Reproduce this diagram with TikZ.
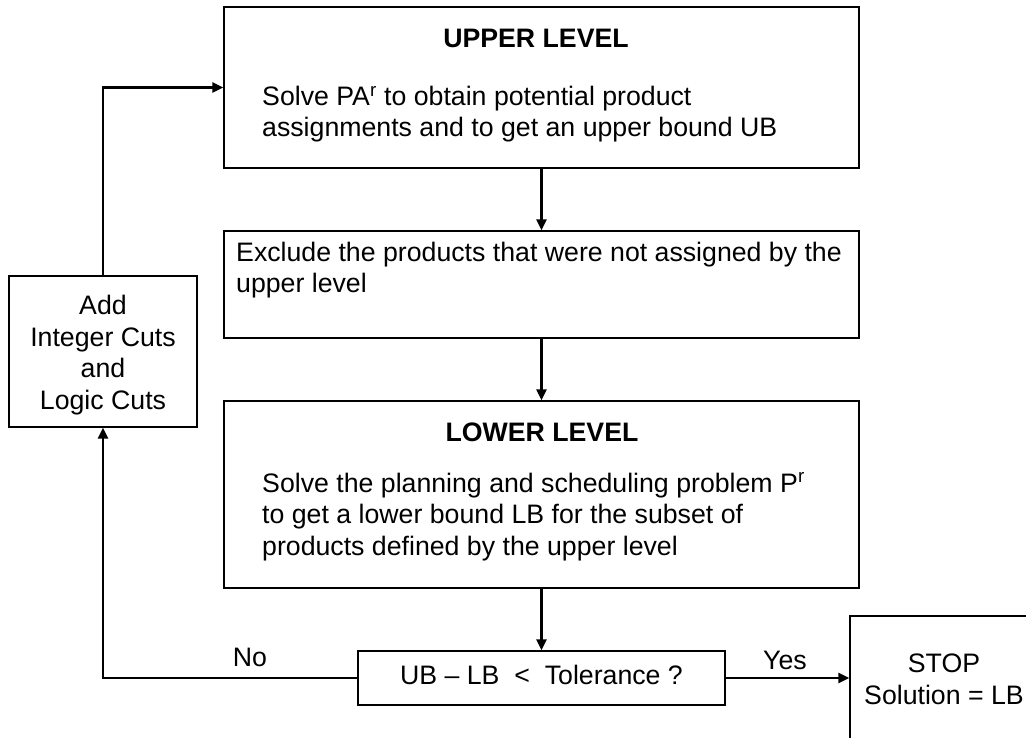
\documentclass[tikz,border=0pt]{standalone}
\usepackage{fontspec}
\setmainfont{Liberation Sans}
\usetikzlibrary{arrows.meta}
\begin{document}
\begin{tikzpicture}[x=1pt,y=-1pt,
  box/.style={draw, line width=1.4pt, rectangle, inner sep=0pt},
  conn/.style={line width=2.8pt, -{Triangle[length=11pt,width=10pt]}},
  txt/.style={inner sep=0pt, font=\fontsize{26.7pt}{31.5pt}\selectfont},
  ttl/.style={txt, font=\fontsize{26.7pt}{31.5pt}\selectfont\bfseries}]
\useasboundingbox (0,0) rectangle (1026,738);
\clip (0,0) rectangle (1026,738);
% boxes
\node[box, minimum width=635pt, minimum height=161pt] (upper) at (541.5,87.5) {};
\node[box, minimum width=635pt, minimum height=107pt] (middle) at (541.5,284.5) {};
\node[box, minimum width=635pt, minimum height=187pt] (lower) at (541.5,494.5) {};
\node[box, minimum width=367pt, minimum height=54pt] (dec) at (541.5,678) {};
\node[box, minimum width=188pt, minimum height=151pt] (cuts) at (103,351.5) {};
\node[box, minimum width=186pt, minimum height=124pt] (stop) at (943,678) {};
% texts (multi-line nodes: base anchor = last line)
\node[ttl, anchor=base] (uptitle) at (536,48) {UPPER LEVEL};
\node[txt, anchor=base west, align=left] (uptext) at (262,137)
  {Solve PA\textsuperscript{r} to obtain potential product\\assignments and to get an upper bound UB};
\node[txt, anchor=base west, align=left] (midtext) at (236,293)
  {Exclude the products that were not assigned by the\\upper level};
\node[ttl, anchor=base] (lowtitle) at (542,441) {LOWER LEVEL};
\node[txt, anchor=base west, align=left] (lowtext) at (262,555)
  {Solve the planning and scheduling problem P\textsuperscript{r}\\to get a lower bound LB for the subset of\\products defined by the upper level};
\node[txt, anchor=base, align=center] (cutstext) at (103,409)
  {Add\\Integer Cuts\\and\\Logic Cuts};
\node[txt, anchor=base] (dectext) at (541.5,684) {UB \textendash\ LB\ \ <\ \ Tolerance ?};
\node[txt, anchor=base, align=center] (stoptext) at (944,704) {STOP\\Solution = LB};
\node[txt, anchor=base] (yes) at (785,669) {Yes};
\node[txt, anchor=base] (no) at (250,666) {No};
% connectors
\draw[conn] (upper.south) -- (middle.north);
\draw[conn] (middle.south) -- (lower.north);
\draw[conn] (lower.south) -- (dec.north);
\draw[conn] (dec.east) -- (stop.west);
\draw[conn] (dec.west) -| (cuts.south);
\draw[conn] (cuts.north) |- (upper.west);
\end{tikzpicture}
\end{document}
